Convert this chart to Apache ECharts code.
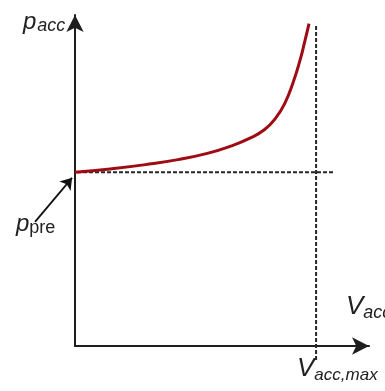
<!DOCTYPE html>
<html>
<head>
<meta charset="utf-8">
<script src="https://cdn.jsdelivr.net/npm/echarts@6/dist/echarts.min.js"></script>
<style>
  html, body { margin: 0; padding: 0; background: #fff; }
  #chart { width: 385px; height: 391px; }
</style>
</head>
<body>
<div id="chart"></div>
<script>
// Accumulator pressure vs. stored volume (normalised units)
var pPre = 52.5;      // pre-charge pressure
var vMax = 82;        // maximum accumulator volume
var volume   = [0, 12, 24, 35, 45, 53, 59.5, 64.5, 68.3, 71.4, 74.1, 76.5, 78.2, 79.6];
var pressure = [52.5, 53.5, 54.8, 56.3, 58.2, 60.4, 62.8, 65.4, 68.9, 73.4, 79.4, 86.2, 92.2, 97.4];
// guide-line extents
var preLineX = [-3.4, 87.8];
var maxLineY = [-4.2, 97];
// pointer from the p_pre label to the start of the curve
var pointerFrom = [-13.6, 37.5];
var pointerTo = [-1.0, 50.8];

var curve = volume.map(function (v, i) { return [v, pressure[i]]; });

var chart = echarts.init(document.getElementById('chart'));
var axisCol = '#1e1e1e';
var dashCol = '#262626';
var font = '"Liberation Sans", Arial, sans-serif';

chart.setOption({
  animation: false,
  grid: { left: 75, right: 16, top: 15, bottom: 45 },
  xAxis: {
    type: 'value', min: 0, max: 100,
    axisLine: { show: true, lineStyle: { color: axisCol, width: 2 }, symbol: ['none', 'arrow'], symbolSize: [13, 17] },
    axisTick: { show: false }, axisLabel: { show: false }, splitLine: { show: false }
  },
  yAxis: {
    type: 'value', min: 0, max: 100,
    axisLine: { show: true, lineStyle: { color: axisCol, width: 2 }, symbol: ['none', 'arrow'], symbolSize: [13, 17] },
    axisTick: { show: false }, axisLabel: { show: false }, splitLine: { show: false }
  },
  series: [
    {
      type: 'line', clip: false, symbol: 'none', silent: true,
      data: [[preLineX[0], pPre], [preLineX[1], pPre]],
      lineStyle: { color: dashCol, width: 2, type: [4, 2] }
    },
    {
      type: 'line', clip: false, symbol: 'none', silent: true,
      data: [[vMax, maxLineY[0]], [vMax, maxLineY[1]]],
      lineStyle: { color: dashCol, width: 2, type: [4, 2] }
    },
    {
      type: 'line', smooth: 0.5, symbol: 'none', silent: true, clip: false,
      data: curve,
      lineStyle: { color: '#9e0b12', width: 3 }
    },
    {
      type: 'lines', coordinateSystem: 'cartesian2d', silent: true, clip: false,
      symbol: ['none', 'arrow'], symbolSize: 11,
      lineStyle: { color: '#111', width: 1.8, opacity: 1 },
      data: [{ coords: [pointerFrom, pointerTo] }]
    }
  ],
  graphic: [
    {
      type: 'text', left: 23, top: 10,
      style: {
        text: '{a|p}{b|acc}',
        rich: {
          a: { fontFamily: font, fontStyle: 'italic', fontSize: 24, fill: '#222' },
          b: { fontFamily: font, fontStyle: 'italic', fontSize: 18, fill: '#222', padding: [8, 0, 0, 1] }
        }
      }
    },
    {
      type: 'text', left: 16, top: 212,
      style: {
        text: '{a|p}{b|pre}',
        rich: {
          a: { fontFamily: font, fontStyle: 'italic', fontSize: 24, fill: '#222' },
          b: { fontFamily: font, fontSize: 18, fill: '#222', padding: [8, 0, 0, 0] }
        }
      }
    },
    {
      type: 'text', left: 346, top: 294,
      style: {
        text: '{a|V}{b|acc}',
        rich: {
          a: { fontFamily: font, fontStyle: 'italic', fontSize: 26, fill: '#222' },
          b: { fontFamily: font, fontStyle: 'italic', fontSize: 18, fill: '#222', padding: [12, 0, 0, 0] }
        }
      }
    },
    {
      type: 'text', left: 297, top: 356,
      style: {
        text: '{a|V}{b|acc,max}',
        rich: {
          a: { fontFamily: font, fontStyle: 'italic', fontSize: 26, fill: '#222' },
          b: { fontFamily: font, fontStyle: 'italic', fontSize: 17, fill: '#222', padding: [12, 0, 0, 0] }
        }
      }
    }
  ]
});
</script>
</body>
</html>
